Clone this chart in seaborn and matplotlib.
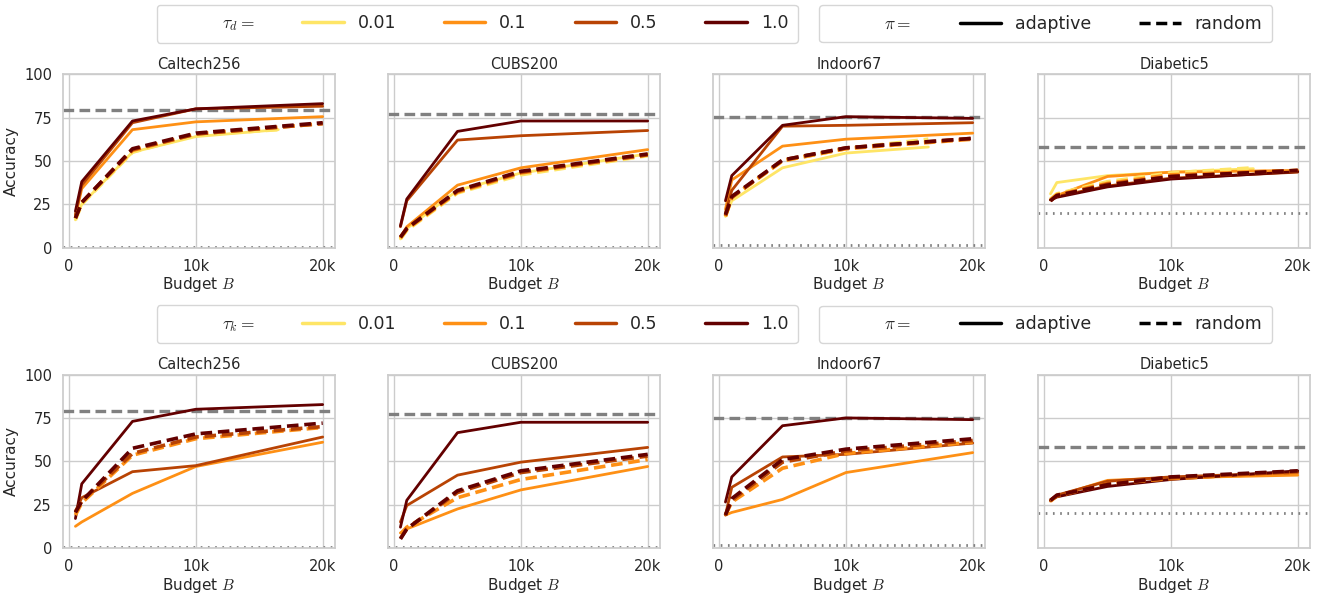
import numpy as np
import pandas as pd
import matplotlib
matplotlib.use("Agg")
import matplotlib.pyplot as plt
from matplotlib.lines import Line2D
import seaborn as sns

# ---------------- data ----------------
datasets = ["Caltech256", "CUBS200", "Indoor67", "Diabetic5"]
taus = ["0.01", "0.1", "0.5", "1.0"]
budgets = [500, 1000, 5000, 10000, 20000]
budgets_short = [500, 1000, 5000, 10000, 16500]

# reference (full data) and chance levels
ref_top = [79.5, 77.0, 75.5, 58.0]
ref_bot = [78.8, 77.0, 75.0, 58.0]
chance = [0.4, 0.5, 1.5, 20.0]

# top row: tau_d  (rows: 0.01, 0.1, 0.5, 1.0)
td_caltech_adaptive = [[16, 25, 55, 64, 68], [18, 34, 68, 72.5, 75.5], [19, 36, 72, 80, 81.5], [21, 38, 73, 80, 83]]
td_caltech_random = [[16, 25, 55, 65, 68], [17, 26, 56, 65.5, 71.5], [17, 26, 56.5, 65.5, 71.5], [17, 26, 57, 66, 72]]
td_cubs_adaptive = [[5, 11, 33, 43, 54], [6, 12, 36, 46, 56.5], [12, 27, 62, 64.5, 67.5], [12.5, 28, 67, 73, 73]]
td_cubs_random = [[5, 10, 31.5, 42, 53], [5.5, 10.5, 32, 43, 53.5], [6, 11, 32.5, 43.5, 53.5], [6, 11, 33, 44, 54]]
td_indoor_adaptive = [[18, 27, 46, 54.5, 58], [22, 39, 58.5, 62.5, 66], [20, 33, 70, 70.5, 72], [27, 41.5, 70.5, 75.5, 74.5]]
td_indoor_random = [[18, 29, 50, 57, 62.5], [18, 29, 50, 57, 62.5], [18.5, 29, 50.5, 57.5, 63], [19, 29.5, 50.5, 57.5, 63]]
td_diabetic_adaptive = [[31, 37.5, 41.5, 43.5, 45.5], [27.5, 30, 41, 43.5, 44.5], [27.5, 29.5, 35.5, 40, 43.5], [27.5, 29, 35, 39.5, 43.8]]
td_diabetic_random = [[28, 31, 38, 43, 46], [27.5, 30.5, 37, 42, 44.5], [27, 30, 36.5, 41, 44.5], [27, 30, 36, 41, 44.5]]

# bottom row: tau_k (rows: 0.1, 0.5, 1.0; 0.01 has no curves)
tk_caltech_adaptive = [[12.5, 15, 31.5, 47, 61], [21, 29, 44, 47.5, 64], [17, 37, 73, 80, 82.7]]
tk_caltech_random = [[19, 26, 53.5, 63, 69.5], [21, 27, 54.5, 64, 70], [20.5, 27, 57.5, 65.8, 72]]
tk_cubs_adaptive = [[8.7, 11, 22.5, 33.5, 47], [15, 24.5, 42, 49.5, 58], [12, 27.5, 66.5, 72.5, 72.5]]
tk_cubs_random = [[8, 12, 29, 39.5, 51], [5.5, 11, 32, 43.5, 53], [5.2, 11, 33, 44.5, 54]]
tk_indoor_adaptive = [[19, 20.5, 28, 43.5, 55], [19, 35, 52.5, 54, 60.5], [26.5, 41, 70.5, 75, 74]]
tk_indoor_random = [[19, 26.5, 46, 54.5, 61], [19, 27.5, 49.5, 56, 62], [19, 28.5, 51, 57, 63]]
tk_diabetic_adaptive = [[27, 30, 39, 40.5, 42], [27.5, 30.5, 38.5, 41, 43.5], [27.5, 29.5, 35.5, 39.5, 44.5]]
tk_diabetic_random = [[27, 30, 37, 40, 43.5], [27.5, 30, 37, 40.5, 44], [27.5, 30.5, 36.5, 41, 44.5]]

colors = ["#fee566", "#fe9015", "#b84304", "#630000"]

# ---------------- build frames ----------------
def build(adaptive, random, tau_levels, short_flags=None):
    rows = []
    for pol, table in (("adaptive", adaptive), ("random", random)):
        for i, (t, vals) in enumerate(zip(tau_levels, table)):
            xs = budgets_short if (short_flags is not None and short_flags[i]) else budgets
            for x, v in zip(xs, vals):
                rows.append({"budget": x, "acc": v, "tau": t, "policy": pol})
    return pd.DataFrame(rows)

top_frames = [
    build(td_caltech_adaptive, td_caltech_random, taus, [True, False, False, False]),
    build(td_cubs_adaptive, td_cubs_random, taus),
    build(td_indoor_adaptive, td_indoor_random, taus, [True, False, False, False]),
    build(td_diabetic_adaptive, td_diabetic_random, taus, [True, False, False, False]),
]
bot_frames = [
    build(tk_caltech_adaptive, tk_caltech_random, taus[1:]),
    build(tk_cubs_adaptive, tk_cubs_random, taus[1:]),
    build(tk_indoor_adaptive, tk_indoor_random, taus[1:]),
    build(tk_diabetic_adaptive, tk_diabetic_random, taus[1:]),
]

# ---------------- plot ----------------
sns.set_theme(style="whitegrid")
plt.rcParams["font.family"] = ["DejaVu Sans"]
plt.rcParams["mathtext.fontset"] = "cm"

fig, axes = plt.subplots(2, 4, figsize=(13.22, 5.98), dpi=100, sharey=True)
fig.subplots_adjust(left=0.0477, right=0.991, top=0.876, bottom=0.0836, wspace=0.195, hspace=0.732)

palette = dict(zip(taus, colors))

for r, (frames, refs) in enumerate(((top_frames, ref_top), (bot_frames, ref_bot))):
    for c, ax in enumerate(axes[r]):
        df = frames[c]
        levels = [t for t in taus if t in set(df["tau"])]
        sns.lineplot(data=df[df.policy == "adaptive"], x="budget", y="acc", hue="tau",
                     hue_order=levels, palette=palette, linewidth=2.0, legend=False, ax=ax,
                     estimator=None, sort=True)
        sns.lineplot(data=df[df.policy == "random"], x="budget", y="acc", hue="tau",
                     hue_order=levels, palette=palette, linewidth=2.6, legend=False, ax=ax,
                     estimator=None, sort=True, dashes=False)
        for line in ax.lines[-len(levels):]:
            line.set_dashes((3.2, 1.6))
        ax.axhline(refs[c], color="#808080", lw=2.4, ls=(0, (3.2, 1.6)), zorder=1)
        ax.axhline(chance[c], color="#808080", lw=2.0, ls=(0, (0.6, 2.0)), zorder=1)
        ax.set_ylim(0, 100)
        ax.set_xlim(-475, 20975)
        ax.set_xticks([0, 10000, 20000])
        ax.set_xticklabels(["0", "10k", "20k"])
        ax.set_yticks([0, 25, 50, 75, 100])
        ax.set_title(datasets[c], fontsize=10.5, pad=4)
        ax.set_xlabel("Budget $B$", fontsize=11, labelpad=1)
        ax.set_ylabel("Accuracy" if c == 0 else "", fontsize=11, labelpad=4)
        ax.tick_params(axis="both", labelsize=10.5, pad=2)
        for s in ax.spines.values():
            s.set_color("#cccccc")

# ---------------- legends ----------------
def tau_legend(sym, y):
    handles = [Line2D([], [], color="none")] + [Line2D([], [], color=col, lw=2.5) for col in colors]
    labels = [sym] + taus
    leg = fig.legend(handles, labels, loc="center", bbox_to_anchor=(0.361, y), ncol=5,
                     fontsize=12.5, handlelength=2.4, columnspacing=2.75, handletextpad=0.8,
                     frameon=True, borderpad=0.55)
    leg.get_frame().set_edgecolor("#cccccc")
    return leg

def pi_legend(y):
    handles = [Line2D([], [], color="none"),
               Line2D([], [], color="black", lw=2.5),
               Line2D([], [], color="black", lw=2.5, ls=(0, (3.2, 1.6)))]
    labels = [r"$\pi =$", "adaptive", "random"]
    leg = fig.legend(handles, labels, loc="center", bbox_to_anchor=(0.791, y), ncol=3,
                     fontsize=12.5, handlelength=2.4, columnspacing=2.75, handletextpad=0.8,
                     frameon=True, borderpad=0.55)
    leg.get_frame().set_edgecolor("#cccccc")
    return leg

tau_legend(r"$\tau_d =$", 0.960)
pi_legend(0.960)
tau_legend(r"$\tau_k =$", 0.458)
pi_legend(0.458)

fig.savefig("out.png", dpi=100)
